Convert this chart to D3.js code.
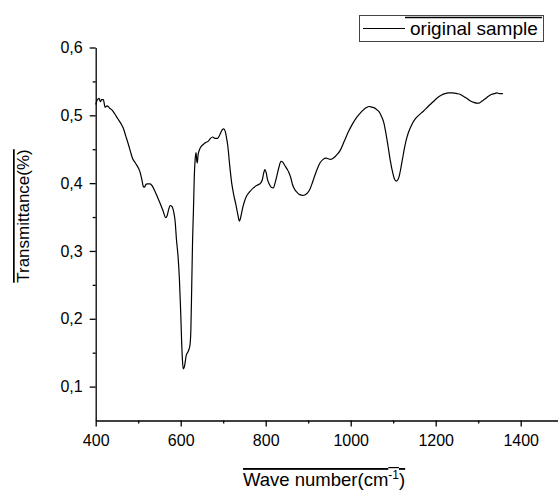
<!DOCTYPE html>
<html lang="en">
<head>
    <meta charset="UTF-8">
    <title>FTIR spectrum - original sample</title>
    <script src='https://d3js.org/d3.v7.min.js'></script>
    <style>
        body { margin: 0; background: white; }
        svg { display: block; font-family: Arial, 'Liberation Sans', sans-serif; }
        .axis path, .axis line { stroke: #000; stroke-width: 1.3; }
        .axis text { font-size: 16px; fill: #000; font-family: Arial, 'Liberation Sans', sans-serif; }
    </style>
</head>
<body onload='init()'>
<svg width="558" height="490"></svg>
<script>
// wave number (cm-1)
const waveNumbers = [
    400, 404, 408, 411, 414, 418, 422, 427, 432, 438, 445, 452, 461, 465, 471, 477, 482, 487, 492, 496,
    504, 509, 512, 515, 518, 521, 528, 533, 538, 545, 551, 558, 565, 568, 572, 575, 579, 584, 587, 590,
    594, 597, 600, 602, 604, 606, 608, 610, 613, 616, 620, 622, 624, 626, 628, 630, 632, 634, 636, 638,
    639, 641, 644, 648, 653, 659, 665, 670, 675, 681, 687, 691, 694, 698, 701, 705, 708, 711, 715, 720,
    725, 730, 734, 738, 742, 746, 750, 755, 762, 771, 780, 788, 792, 795, 798, 801, 804, 808, 813, 818,
    822, 826, 831, 836, 840, 845, 850, 855, 859, 863, 868, 873, 880, 887, 893, 899, 904, 910, 916, 922,
    928, 935, 942, 947, 952, 957, 963, 969, 975, 985, 994, 1004, 1014, 1022, 1030, 1036, 1043, 1050, 1056, 1062,
    1067, 1072, 1078, 1083, 1088, 1093, 1099, 1103, 1107, 1111, 1114, 1118, 1122, 1126, 1130, 1136, 1142, 1151, 1160, 1171,
    1182, 1194, 1204, 1214, 1222, 1230, 1240, 1250, 1257, 1265, 1273, 1282, 1290, 1296, 1302, 1309, 1316, 1324, 1332, 1338,
    1344, 1350, 1358
];
// transmittance (%) at each wave number
const transmittance = [
    0.516, 0.523, 0.525, 0.520, 0.523, 0.523, 0.512, 0.514, 0.511, 0.508, 0.502, 0.495, 0.486, 0.481, 0.469, 0.457, 0.446, 0.436, 0.431, 0.427,
    0.417, 0.404, 0.395, 0.394, 0.398, 0.399, 0.399, 0.396, 0.390, 0.380, 0.371, 0.360, 0.349, 0.352, 0.362, 0.367, 0.366, 0.356, 0.343, 0.317,
    0.290, 0.258, 0.210, 0.170, 0.140, 0.126, 0.128, 0.134, 0.146, 0.150, 0.156, 0.162, 0.185, 0.250, 0.317, 0.360, 0.410, 0.435, 0.445, 0.432,
    0.430, 0.442, 0.449, 0.454, 0.457, 0.460, 0.462, 0.466, 0.468, 0.466, 0.466, 0.470, 0.474, 0.479, 0.480, 0.476, 0.466, 0.454, 0.428, 0.400,
    0.382, 0.368, 0.355, 0.344, 0.352, 0.364, 0.373, 0.381, 0.387, 0.393, 0.397, 0.400, 0.405, 0.414, 0.420, 0.416, 0.406, 0.399, 0.394, 0.393,
    0.400, 0.410, 0.423, 0.432, 0.431, 0.426, 0.421, 0.415, 0.408, 0.398, 0.391, 0.387, 0.383, 0.382, 0.383, 0.386, 0.391, 0.401, 0.412, 0.422,
    0.430, 0.435, 0.437, 0.436, 0.435, 0.436, 0.439, 0.443, 0.448, 0.462, 0.475, 0.487, 0.497, 0.503, 0.508, 0.511, 0.513, 0.512, 0.511, 0.508,
    0.505, 0.499, 0.489, 0.473, 0.454, 0.434, 0.415, 0.406, 0.403, 0.405, 0.410, 0.422, 0.436, 0.450, 0.462, 0.475, 0.484, 0.494, 0.500, 0.506,
    0.513, 0.520, 0.526, 0.530, 0.532, 0.533, 0.533, 0.532, 0.531, 0.528, 0.525, 0.521, 0.519, 0.518, 0.518, 0.521, 0.524, 0.528, 0.531, 0.532,
    0.533, 0.532, 0.532
];
const xMajorTicks = [400, 600, 800, 1000, 1200, 1400];
const xMinorTicks = [500, 700, 900, 1100, 1300];
const yMajorTicks = [0.1, 0.2, 0.3, 0.4, 0.5, 0.6];
const yMinorTicks = [0.15, 0.25, 0.35, 0.45, 0.55];
const seriesName = 'original sample';

function init() {
    const left = 95.7, top = 47.5, bottom = 420.5;
    const data = waveNumbers.map((w, i) => ({w: w, t: transmittance[i]}));

    const x = d3.scaleLinear()
        .domain([400, 1500])
        .range([left, left + 1100 * 0.425]);

    const y = d3.scaleLinear()
        .domain([0.05, 0.6])
        .range([bottom, top]);

    const svg = d3.select('svg');

    // minor ticks first, majors carry the axis line
    svg.append('g')
        .attr('class', 'axis')
        .attr('transform', `translate(0, ${bottom})`)
        .call(d3.axisBottom(x).tickValues(xMinorTicks).tickSize(3).tickFormat(''))
        .call(g => g.select('.domain').remove());

    svg.append('g')
        .attr('class', 'axis')
        .attr('transform', `translate(${left}, 0)`)
        .call(d3.axisLeft(y).tickValues(yMinorTicks).tickSize(3).tickFormat(''))
        .call(g => g.select('.domain').remove());

    svg.append('g')
        .attr('class', 'axis')
        .attr('transform', `translate(0, ${bottom})`)
        .call(d3.axisBottom(x)
            .tickValues(xMajorTicks)
            .tickSize(6)
            .tickSizeOuter(0)
            .tickPadding(8)
            .tickFormat(d3.format('d')));

    svg.append('g')
        .attr('class', 'axis')
        .attr('transform', `translate(${left}, 0)`)
        .call(d3.axisLeft(y)
            .tickValues(yMajorTicks)
            .tickSize(6)
            .tickSizeOuter(0)
            .tickPadding(7)
            .tickFormat(d => d3.format('.1f')(d).replace('.', ',')));

    const line = d3.line()
        .x(d => x(d.w))
        .y(d => y(d.t))
        .curve(d3.curveMonotoneX);

    svg.append('path')
        .datum(data)
        .attr('d', line)
        .attr('fill', 'none')
        .attr('stroke', '#000')
        .attr('stroke-width', 1.2);

    // axis titles (Origin draws them with an overline)
    const xTitle = svg.append('text')
        .attr('x', 243)
        .attr('y', 486)
        .style('font-size', '18.5px')
        .style('text-decoration', 'overline');
    xTitle.append('tspan').text('Wave number(cm');
    xTitle.append('tspan').attr('baseline-shift', 'super').style('font-size', '12px').text('-1');
    xTitle.append('tspan').text(')');

    svg.append('text')
        .attr('transform', 'translate(29, 216) rotate(-90)')
        .attr('text-anchor', 'middle')
        .style('font-size', '17px')
        .style('text-decoration', 'overline')
        .text('Transmittance(%)');

    // legend
    const legend = svg.append('g');
    legend.append('rect')
        .attr('x', 359.5)
        .attr('y', 15.5)
        .attr('width', 184)
        .attr('height', 26)
        .attr('fill', 'white')
        .attr('stroke', '#444')
        .attr('stroke-width', 1);
    legend.append('line')
        .attr('x1', 363).attr('x2', 405)
        .attr('y1', 28.5).attr('y2', 28.5)
        .attr('stroke', '#000')
        .attr('stroke-width', 1.2);
    legend.append('line')
        .attr('x1', 405).attr('x2', 542)
        .attr('y1', 17.5).attr('y2', 17.5)
        .attr('stroke', '#000')
        .attr('stroke-width', 1.3);
    legend.append('text')
        .attr('x', 410)
        .attr('y', 35)
        .style('font-size', '19px')
        .text(seriesName);
}
</script>
</body>
</html>
